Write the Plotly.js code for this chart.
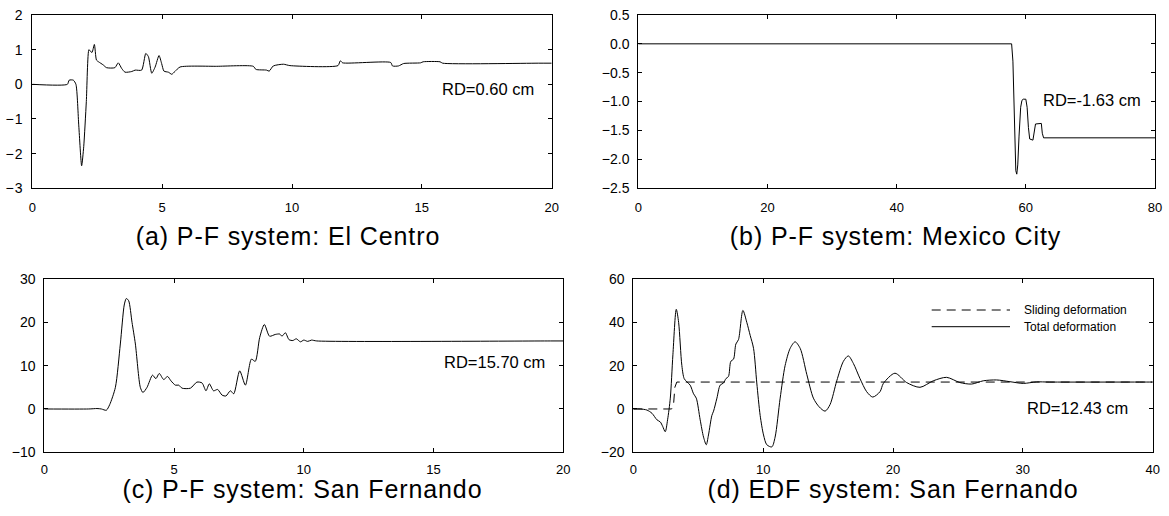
<!DOCTYPE html>
<html>
<head>
<meta charset="utf-8">
<script src="https://cdn.plot.ly/plotly-3.0.1.min.js"></script>
<style>
html,body{margin:0;padding:0;background:#fff;}
#chart{width:1169px;height:516px;}
.ytick text{letter-spacing:1px;}
.annotation[data-index="0"] text,.annotation[data-index="1"] text,.annotation[data-index="2"] text,.annotation[data-index="3"] text{letter-spacing:0.9px;}
</style>
</head>
<body>
<div id="chart"></div>
<script>
// (a) P-F system: El Centro
const tA = [0,1.35,1.42,1.58,1.68,1.79,1.9,1.98,2.08,2.18,2.24,2.3,2.39,2.47,2.55,2.73,2.86,3.18,3.31,3.44,3.57,3.83,3.96,4.21,4.37,4.47,4.6,4.73,4.88,4.98,5.07,5.24,5.37,5.49,5.69,7.1,8.51,8.61,9.02,9.12,9.28,9.67,9.92,11.77,11.86,11.95,13.8,13.87,14.1,14.3,14.95,15.05,15.7,15.8,19.5,20];
const vA = [0,0,0.12,0.12,0,-1.2,-2.35,-1.8,-0.5,1.0,0.95,0.92,1.15,0.7,0.65,0.56,0.48,0.48,0.62,0.46,0.35,0.37,0.41,0.41,0.89,0.8,0.32,0.5,0.83,0.6,0.38,0.35,0.29,0.37,0.5,0.52,0.52,0.43,0.41,0.38,0.53,0.58,0.54,0.54,0.68,0.62,0.63,0.53,0.53,0.6,0.62,0.65,0.65,0.61,0.61,0.61];
// (b) P-F system: Mexico City
const tB = [0,57.8,58.0,58.15,58.3,58.45,58.6,58.75,58.95,59.2,59.4,59.6,60.0,60.2,60.4,60.6,61.1,61.3,61.5,62.4,62.55,62.75,80];
const vB = [0,0,-0.3,-1.0,-1.8,-2.2,-2.26,-2.1,-1.6,-1.1,-0.98,-0.96,-0.96,-1.1,-1.45,-1.65,-1.67,-1.5,-1.39,-1.38,-1.55,-1.63,-1.63];
// (c) P-F system: San Fernando
const tC = [0,1.71,2.03,2.2,2.39,2.52,2.74,2.93,3.08,3.16,3.25,3.38,3.51,3.7,3.8,3.96,4.17,4.3,4.43,4.6,4.75,4.88,5.05,5.18,5.31,5.63,5.88,6.08,6.23,6.36,6.52,6.68,6.85,7.0,7.17,7.3,7.53,7.75,7.98,8.13,8.3,8.48,8.68,8.9,9.07,9.16,9.29,9.43,9.58,9.71,9.87,10.0,10.15,10.3,10.5,19.5,20];
const vC = [0,0,0.1,0,-0.3,1,5,15,24,25.5,25,20,15,5,3.8,5,7.8,7,8.2,6.8,7.5,6.5,5.5,5.5,4.8,4.8,6.2,6,4.2,5.8,4.2,4.5,3.2,3,4.2,3.5,8.8,5.5,11.5,11,16.5,19.5,16.8,17.2,17.3,16.8,17.6,16,15.8,16.2,15.5,15.9,15.6,15.9,15.7,15.7,15.7];
// (d) EDF system: San Fernando
const tD = [0,0.54,1.05,1.44,1.82,2.08,2.26,2.46,2.64,2.85,3.05,3.31,3.49,3.74,3.92,4.13,4.38,4.64,4.85,5.15,5.41,5.62,5.79,6.05,6.18,6.44,6.69,6.95,7.13,7.33,7.51,7.72,7.9,8.1,8.44,8.74,9.0,9.26,9.51,9.77,10.03,10.28,10.67,10.92,11.31,11.69,12.08,12.46,12.85,13.36,13.87,14.31,14.77,15.15,15.67,16.18,16.56,16.95,17.46,17.97,18.44,19.0,19.26,20.15,21.05,22.08,23.1,24.13,25.15,26.05,26.95,27.97,29.0,30.03,31.05,32.08,39.5,40];
const totalD = [0,0,-0.5,-2,-5,-6,-8,-10.5,-5,5,25,46,40,20,14,12.5,11,7,5,-5,-13,-16.5,-12,-3,-1,5,11,12,14,15,22,23,30,32,45.5,40,34,28,12,-3,-12,-16.5,-17.5,-13,5,20,28,31,28,16,5,1,-1,2,13,22,24.5,21,14,8,5.5,8,11.8,16.5,12.2,10,13,14.6,12.2,11.5,13,13.4,12.6,11.8,12.5,12.43,12.43,12.43];
const tS = [0,2.95,3.1,3.2,3.35,40];
const slidingD = [0,0,2,10,12.43,12.43];

const panelTitles = ["(a) P-F system: El Centro","(b) P-F system: Mexico City","(c) P-F system: San Fernando","(d) EDF system: San Fernando"];
const rdLabels = ["RD=0.60 cm","RD=-1.63 cm","RD=15.70 cm","RD=12.43 cm"];
const legendNames = ["Sliding deformation","Total deformation"];

const W = 1169, H = 516;
const px = v => v / W;
const py = v => 1 - v / H;
const FONT = "Liberation Sans, Arial, Helvetica, sans-serif";

const line = {color:"#000", width:1};
const traces = [
  {x:tA, y:vA, xaxis:"x", yaxis:"y", mode:"lines", line:Object.assign({shape:"spline", smoothing:0.6}, line), showlegend:false, name:"El Centro"},
  {x:tB, y:vB, xaxis:"x2", yaxis:"y2", mode:"lines", line:Object.assign({shape:"linear"}, line), showlegend:false, name:"Mexico City"},
  {x:tC, y:vC, xaxis:"x3", yaxis:"y3", mode:"lines", line:Object.assign({shape:"spline", smoothing:0.7}, line), showlegend:false, name:"San Fernando"},
  {x:tS, y:slidingD, xaxis:"x4", yaxis:"y4", mode:"lines", line:{color:"#000", width:1, dash:"9px,6px"}, showlegend:false, name:legendNames[0]},
  {x:tD, y:totalD, xaxis:"x4", yaxis:"y4", mode:"lines", line:Object.assign({shape:"spline", smoothing:0.8}, line), showlegend:false, name:legendNames[1]}
];

function xax(domain, range, dtick, anchor, standoff){
  return {domain:domain, range:range, dtick:dtick, tick0:0, anchor:anchor, ticks:"inside", ticklen:4, tickcolor:"#000",
    showline:true, linecolor:"#000", linewidth:1, mirror:"ticks", showgrid:false, zeroline:false,
    ticklabelstandoff:standoff,
    tickfont:{family:FONT, size:13, color:"#000"}, fixedrange:true};
}
function yax(domain, range, dtick, anchor, fmt){
  const a = xax(domain, range, dtick, anchor, 5);
  a.tickfont = {family:FONT, size:14, color:"#000"};
  if (fmt) a.tickformat = fmt;
  return a;
}

const layout = {
  width:W, height:H, margin:{l:0,r:0,t:0,b:0}, paper_bgcolor:"#fff", plot_bgcolor:"#fff", showlegend:false,
  font:{family:FONT, color:"#000"},
  xaxis: xax([px(32.3), px(551.7)], [0,20], 5, "y", 7),
  yaxis: yax([py(188.3), py(15)], [-3,2], 1, "x"),
  xaxis2: xax([px(638.3), px(1155)], [0,80], 20, "y2", 7),
  yaxis2: yax([py(188), py(15)], [-2.5,0.5], 0.5, "x2", ".1f"),
  xaxis3: xax([px(44.3), px(563.3)], [0,20], 5, "y3", 5),
  yaxis3: yax([py(452.3), py(279)], [-10,30], 10, "x3"),
  xaxis4: xax([px(633.3), px(1152.7)], [0,40], 10, "y4", 5),
  yaxis4: yax([py(452.3), py(279)], [-20,60], 20, "x4"),
  annotations: [
    {text:panelTitles[0], xref:"paper", yref:"paper", x:px(288), y:py(236), xanchor:"center", yanchor:"middle", showarrow:false, font:{family:FONT, size:25}},
    {text:panelTitles[1], xref:"paper", yref:"paper", x:px(895), y:py(236), xanchor:"center", yanchor:"middle", showarrow:false, font:{family:FONT, size:25}},
    {text:panelTitles[2], xref:"paper", yref:"paper", x:px(302), y:py(489), xanchor:"center", yanchor:"middle", showarrow:false, font:{family:FONT, size:25}},
    {text:panelTitles[3], xref:"paper", yref:"paper", x:px(893), y:py(489), xanchor:"center", yanchor:"middle", showarrow:false, font:{family:FONT, size:25}},
    {text:rdLabels[0], xref:"paper", yref:"paper", x:px(488.3), y:py(89), xanchor:"center", yanchor:"middle", showarrow:false, font:{family:FONT, size:16.5}},
    {text:rdLabels[1], xref:"paper", yref:"paper", x:px(1091.5), y:py(100), xanchor:"center", yanchor:"middle", showarrow:false, font:{family:FONT, size:16.5}},
    {text:rdLabels[2], xref:"paper", yref:"paper", x:px(494.7), y:py(361.7), xanchor:"center", yanchor:"middle", showarrow:false, font:{family:FONT, size:16.5}},
    {text:rdLabels[3], xref:"paper", yref:"paper", x:px(1077), y:py(407.7), xanchor:"center", yanchor:"middle", showarrow:false, font:{family:FONT, size:16.5}},
    {text:legendNames[0], xref:"paper", yref:"paper", x:px(1022), y:py(310), xanchor:"left", yanchor:"middle", showarrow:false, font:{family:FONT, size:12}},
    {text:legendNames[1], xref:"paper", yref:"paper", x:px(1022), y:py(326.7), xanchor:"left", yanchor:"middle", showarrow:false, font:{family:FONT, size:12}}
  ],
  shapes: [
    {type:"line", xref:"paper", yref:"paper", x0:px(931.7), x1:px(1010), y0:py(310), y1:py(310), line:{color:"#000", width:1, dash:"9px,6px"}},
    {type:"line", xref:"paper", yref:"paper", x0:px(931.7), x1:px(1010), y0:py(326.7), y1:py(326.7), line:{color:"#000", width:1}}
  ]
};

Plotly.newPlot("chart", traces, layout, {displayModeBar:false, staticPlot:true});
</script>
</body>
</html>
